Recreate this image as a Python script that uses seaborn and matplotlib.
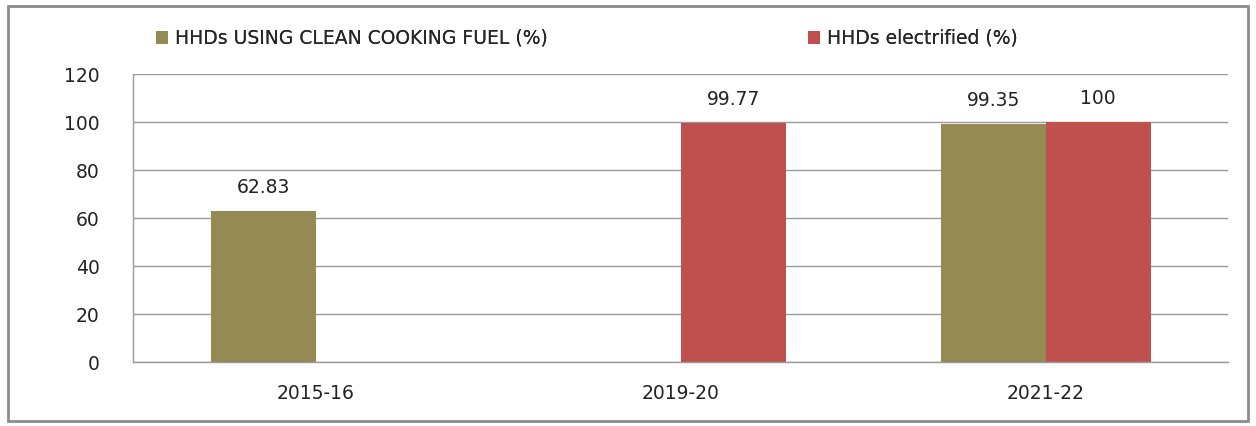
import pandas as pd
import numpy as np
import seaborn as sns
import matplotlib.pyplot as plt
from matplotlib.patches import Rectangle

# chart data
years = ['2015-16', '2019-20', '2021-22']
clean_fuel = [62.83, np.nan, 99.35]
electrified = [np.nan, 99.77, 100]
series_names = ['HHDs USING CLEAN COOKING FUEL (%)', 'HHDs electrified (%)']
colors = ['#948A54', '#C0504D']

df = pd.DataFrame({
    'year': years * 2,
    'series': [series_names[0]] * 3 + [series_names[1]] * 3,
    'value': clean_fuel + electrified,
})

sns.set_style('white')
plt.rcParams['font.family'] = ['DejaVu Sans']
FS = 13.5

fig = plt.figure(figsize=(12.56, 4.26), dpi=100)
ax = fig.add_axes([0.106, 0.150, 0.872, 0.676])

sns.barplot(data=df, x='year', y='value', hue='series', order=years,
            hue_order=series_names, palette=colors, width=0.575,
            saturation=1, ax=ax, errorbar=None, legend=True, linewidth=0)

for c in ax.containers:
    ax.bar_label(c, fmt='%g', padding=10, fontsize=FS, color='#222222')

ax.set_ylim(0, 120)
ax.set_yticks(range(0, 121, 20))
ax.set_xlim(-0.5, 2.5)
ax.grid(axis='y', color='#999999', linewidth=1)
ax.set_axisbelow(True)
ax.set_xlabel('')
ax.set_ylabel('')

for s in ['top', 'right']:
    ax.spines[s].set_visible(False)
for s in ['left', 'bottom']:
    ax.spines[s].set_color('#999999')
    ax.spines[s].set_linewidth(1)

# x ticks sit at category boundaries, labels at centres
ax.set_xticks([-0.5, 0.5, 1.5, 2.5], minor=False)
ax.set_xticklabels([])
ax.set_xticks([0, 1, 2], minor=True)
ax.set_xticklabels(years, minor=True)
ax.tick_params(axis='x', which='major', length=7, direction='out')
ax.tick_params(axis='x', which='minor', length=0, labelsize=FS, pad=16)
ax.tick_params(axis='y', length=9, direction='out', labelsize=FS, pad=15)
ax.tick_params(axis='both', which='both', color='#999999', labelcolor='#222222')

handles, labels = ax.get_legend_handles_labels()
ax.legend_.remove()
for h, lab, x0 in zip(handles, labels, [0.124, 0.643]):
    leg = fig.legend([h], [lab], loc='center left', bbox_to_anchor=(x0, 0.91),
                     frameon=False, fontsize=FS, handlelength=0.65, handleheight=0.65,
                     handletextpad=0.4, borderpad=0, borderaxespad=0)
    fig.add_artist(leg)

fig.patches.append(Rectangle((0.006, 0.012), 0.988, 0.975, transform=fig.transFigure,
                             fill=False, edgecolor='#8c8c8c', linewidth=2))

fig.savefig('out.png', dpi=100)
